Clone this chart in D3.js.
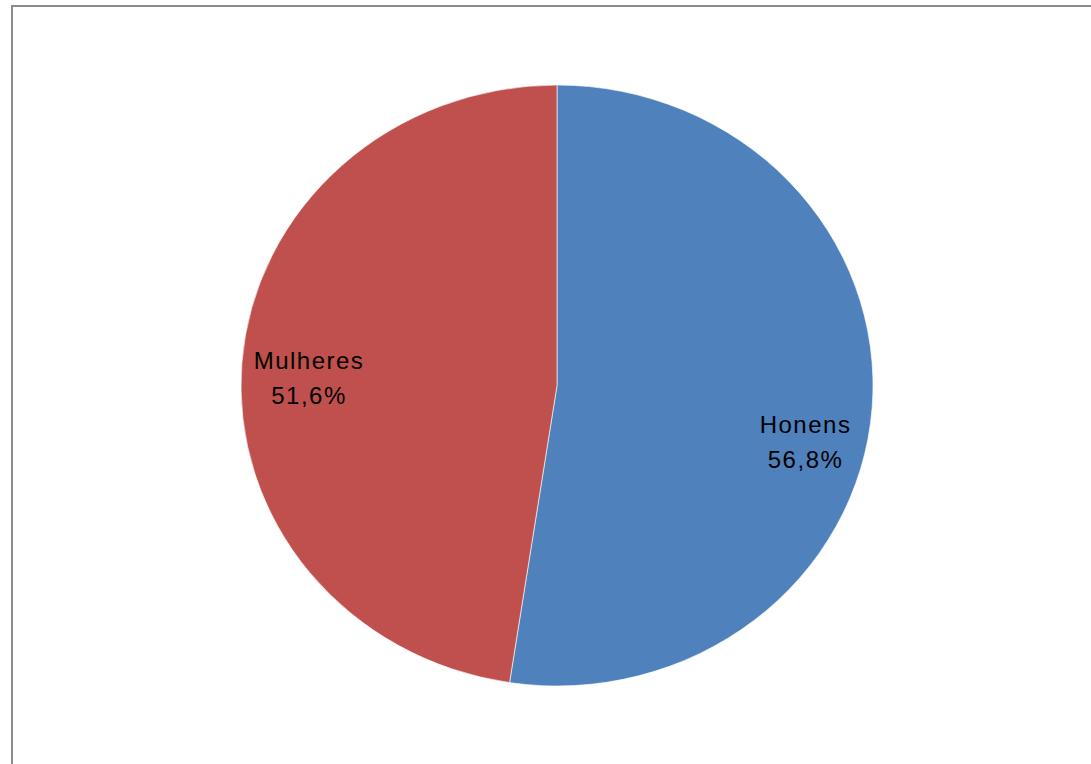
<!DOCTYPE html>
<html>
<head>
<meta charset="utf-8">
<script src="https://cdn.jsdelivr.net/npm/d3@7"></script>
<style>
  body { margin: 0; background: #ffffff; }
</style>
</head>
<body>
<div id="chart"></div>
<script>
// Pie chart: Honens / Mulheres
const categories = ["Honens", "Mulheres"];
const values = [56.8, 51.6];
const valueLabels = ["56,8%", "51,6%"];
const colors = ["#4F81BD", "#C0504D"];
// label placement tweaks (angle shift in degrees, radius as share of r)
const labelShift = [9.5, -3];
const labelRadius = [0.81, 0.785];

const width = 1091;
const height = 764;
const cx = 557;
const cy = 385.5;
const r = 300.5;
const sx = 316 / 300.5;

const svg = d3.select("#chart")
    .append("svg")
    .attr("width", width)
    .attr("height", height);

// chart frame
svg.append("path")
    .attr("d", `M12,${height + 5}V6H${width + 5}`)
    .attr("fill", "none")
    .attr("stroke", "#8c8c8c")
    .attr("stroke-width", 2);

const data = categories.map((c, i) => ({ name: c, value: values[i], label: valueLabels[i], i }));

const pie = d3.pie()
    .sort(null)
    .value(d => d.value);

const arcs = pie(data);

const arc = d3.arc()
    .innerRadius(0)
    .outerRadius(r);

const g = svg.append("g")
    .attr("transform", `translate(${cx},${cy}) scale(${sx},1)`);

g.selectAll("path.slice")
    .data(arcs)
    .enter()
    .append("path")
    .attr("class", "slice")
    .attr("d", arc)
    .attr("fill", d => colors[d.data.i])
    .attr("stroke", "#ffffff")
    .attr("stroke-width", 0.6);

const labels = svg.selectAll("g.label")
    .data(arcs)
    .enter()
    .append("g")
    .attr("class", "label")
    .attr("transform", d => {
        const a = (d.startAngle + d.endAngle) / 2 + labelShift[d.data.i] * Math.PI / 180;
        const lr = labelRadius[d.data.i] * r;
        const x = cx + Math.sin(a) * lr * sx;
        const y = cy - Math.cos(a) * lr;
        return `translate(${x},${y})`;
    });

labels.append("text")
    .attr("text-anchor", "middle")
    .attr("y", -11)
    .style("font-family", "'Liberation Sans', sans-serif")
    .style("font-size", "24px")
    .style("letter-spacing", "1.5px")
    .style("fill", "#000000")
    .text(d => d.data.name);

labels.append("text")
    .attr("text-anchor", "middle")
    .attr("y", 24)
    .style("font-family", "'Liberation Sans', sans-serif")
    .style("font-size", "24px")
    .style("letter-spacing", "1.5px")
    .style("fill", "#000000")
    .text(d => d.data.label);
</script>
</body>
</html>
